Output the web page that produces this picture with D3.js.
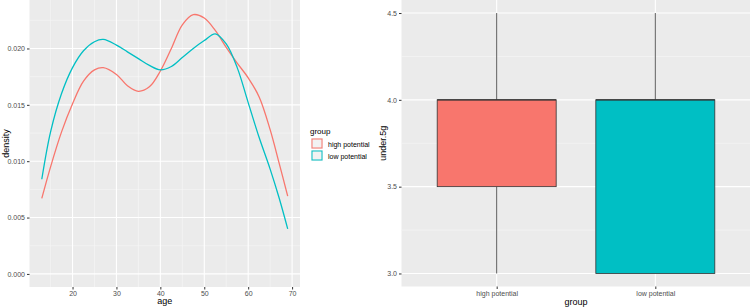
<!DOCTYPE html>
<html>
<head>
<meta charset="utf-8">
<script src="https://cdn.jsdelivr.net/npm/d3@7"></script>
<style>
  body { margin: 0; background: #fff; }
  svg { display: block; font-family: "Liberation Sans", Arial, sans-serif; }
</style>
</head>
<body>
<div id="chart"></div>
<script>
// density data
const ages = [13, 15, 17.5, 20, 22.5, 25, 27, 30, 32.5, 35, 37.5, 40, 42.5, 45, 47.5, 50, 52.5, 55, 57.5, 60, 62.5, 65, 67, 69];
const highDensity = [0.0067, 0.0095, 0.0126, 0.0151, 0.0171, 0.0181, 0.0183, 0.0177, 0.0167, 0.0162, 0.0166, 0.0180, 0.0200, 0.0221, 0.0230, 0.0227, 0.0216, 0.0201, 0.0187, 0.0174, 0.0157, 0.0128, 0.0099, 0.0069];
const lowDensity = [0.0084, 0.0126, 0.0160, 0.0183, 0.0198, 0.0206, 0.0208, 0.0203, 0.0197, 0.0191, 0.0185, 0.0181, 0.0184, 0.0192, 0.0200, 0.0207, 0.0213, 0.0204, 0.0183, 0.0152, 0.0121, 0.0093, 0.0068, 0.0040];
const ageTicks = [20, 30, 40, 50, 60, 70];
const densityTicks = [0, 0.005, 0.010, 0.015, 0.020];

// boxplot data
const groups = ["high potential", "low potential"];
const whiskerLow = [3.0, 3.0];
const q1 = [3.5, 3.0];
const medians = [4.0, 4.0];
const q3 = [4.0, 4.0];
const whiskerHigh = [4.5, 4.5];
const under5gTicks = [3.0, 3.5, 4.0, 4.5];

const colors = { "high potential": "#F8766D", "low potential": "#00BFC4" };

const width = 750, height = 307;
const svg = d3.select("#chart").append("svg").attr("width", width).attr("height", height);

const tickColor = "#4D4D4D";

// ---------- left: density ----------
const L = { left: 29.5, right: 300, top: 0, bottom: 287 };
const x = d3.scaleLinear().domain([10.2, 71.8]).range([L.left, L.right]);
const y = d3.scaleLinear().domain([-0.00116, 0.0243]).range([L.bottom, L.top]);

const gl = svg.append("g");
gl.append("rect").attr("x", L.left).attr("y", L.top)
  .attr("width", L.right - L.left).attr("height", L.bottom - L.top).attr("fill", "#EBEBEB");

// minor grid
[15, 25, 35, 45, 55, 65].forEach((v) => {
  gl.append("line").attr("x1", x(v)).attr("x2", x(v)).attr("y1", L.top).attr("y2", L.bottom)
    .attr("stroke", "#F7F7F7").attr("stroke-width", 0.6);
});
[0.0025, 0.0075, 0.0125, 0.0175, 0.0225].forEach((v) => {
  gl.append("line").attr("x1", L.left).attr("x2", L.right).attr("y1", y(v)).attr("y2", y(v))
    .attr("stroke", "#F7F7F7").attr("stroke-width", 0.6);
});
// major grid
ageTicks.forEach((v) => {
  gl.append("line").attr("x1", x(v)).attr("x2", x(v)).attr("y1", L.top).attr("y2", L.bottom)
    .attr("stroke", "#fff").attr("stroke-width", 1.1);
});
densityTicks.forEach((v) => {
  gl.append("line").attr("x1", L.left).attr("x2", L.right).attr("y1", y(v)).attr("y2", y(v))
    .attr("stroke", "#fff").attr("stroke-width", 1.1);
});

// axes
const xAxis = gl.append("g").attr("transform", `translate(0,${L.bottom})`)
  .call(d3.axisBottom(x).tickValues(ageTicks).tickSize(2.5).tickPadding(2));
const yAxis = gl.append("g").attr("transform", `translate(${L.left},0)`)
  .call(d3.axisLeft(y).tickValues(densityTicks).tickFormat(d3.format(".3f")).tickSize(2.5).tickPadding(2));
[xAxis, yAxis].forEach((a) => {
  a.select(".domain").remove();
  a.selectAll(".tick line").attr("stroke", "#333");
  a.selectAll("text").attr("fill", tickColor).style("font-size", "7px");
});

// lines
const line = d3.line().x((d) => x(d[0])).y((d) => y(d[1])).curve(d3.curveCatmullRom.alpha(0.5));
[["high potential", highDensity], ["low potential", lowDensity]].forEach(([g, vals]) => {
  gl.append("path")
    .datum(ages.map((a, i) => [a, vals[i]]))
    .attr("fill", "none")
    .attr("stroke", colors[g])
    .attr("stroke-width", 1.3)
    .attr("d", line);
});

gl.append("text").attr("x", (L.left + L.right) / 2).attr("y", 304)
  .attr("text-anchor", "middle").style("font-size", "9px").text("age");
gl.append("text").attr("transform", `translate(9,${(L.top + L.bottom) / 2}) rotate(-90)`)
  .attr("text-anchor", "middle").style("font-size", "9px").text("density");

// legend
const lg = svg.append("g").attr("transform", "translate(310,0)");
lg.append("text").attr("x", 0).attr("y", 134).style("font-size", "8px").text("group");
groups.forEach((g, i) => {
  const ky = 138 + i * 12;
  lg.append("rect").attr("x", 1).attr("y", ky).attr("width", 12).attr("height", 11)
    .attr("fill", "#F2F2F2");
  lg.append("rect").attr("x", 2).attr("y", ky + 1).attr("width", 10).attr("height", 9)
    .attr("fill", "none").attr("stroke", colors[g]).attr("stroke-width", 1);
  lg.append("text").attr("x", 18).attr("y", ky + 8.5).style("font-size", "7px").text(g);
});

// ---------- right: boxplot ----------
const R = { left: 401.5, right: 750.5, top: 0, bottom: 286.5 };
// ggplot discrete expansion 0.6 on each side
const xc = d3.scaleLinear().domain([0.4, 2.6]).range([R.left, R.right]);
const yb = d3.scaleLinear().domain([2.925, 4.575]).range([R.bottom, R.top]);

const gr = svg.append("g");
gr.append("rect").attr("x", R.left).attr("y", R.top)
  .attr("width", R.right - R.left).attr("height", R.bottom - R.top).attr("fill", "#EBEBEB");
[3.25, 3.75, 4.25].forEach((v) => {
  gr.append("line").attr("x1", R.left).attr("x2", R.right).attr("y1", yb(v)).attr("y2", yb(v))
    .attr("stroke", "#F7F7F7").attr("stroke-width", 0.6);
});
under5gTicks.forEach((v) => {
  gr.append("line").attr("x1", R.left).attr("x2", R.right).attr("y1", yb(v)).attr("y2", yb(v))
    .attr("stroke", "#fff").attr("stroke-width", 1.1);
});
groups.forEach((g, i) => {
  gr.append("line").attr("x1", xc(i + 1)).attr("x2", xc(i + 1)).attr("y1", R.top).attr("y2", R.bottom)
    .attr("stroke", "#fff").attr("stroke-width", 1.1);
});

const xbAxis = gr.append("g").attr("transform", `translate(0,${R.bottom})`)
  .call(d3.axisBottom(xc).tickValues([1, 2]).tickFormat((d) => groups[d - 1]).tickSize(2.5).tickPadding(2));
const ybAxis = gr.append("g").attr("transform", `translate(${R.left},0)`)
  .call(d3.axisLeft(yb).tickValues(under5gTicks).tickFormat(d3.format(".1f")).tickSize(2.5).tickPadding(2));
[xbAxis, ybAxis].forEach((a) => {
  a.select(".domain").remove();
  a.selectAll(".tick line").attr("stroke", "#333");
  a.selectAll("text").attr("fill", tickColor).style("font-size", "7px");
});

groups.forEach((g, i) => {
  const cx = xc(i + 1);
  const half = xc(i + 1 + 0.375) - cx;
  // whiskers
  gr.append("line").attr("x1", cx).attr("x2", cx).attr("y1", yb(q3[i])).attr("y2", yb(whiskerHigh[i]))
    .attr("stroke", "#333").attr("stroke-width", 0.8);
  gr.append("line").attr("x1", cx).attr("x2", cx).attr("y1", yb(q1[i])).attr("y2", yb(whiskerLow[i]))
    .attr("stroke", "#333").attr("stroke-width", 0.8);
  // box
  gr.append("rect").attr("x", cx - half).attr("y", yb(q3[i]))
    .attr("width", half * 2).attr("height", yb(q1[i]) - yb(q3[i]))
    .attr("fill", colors[g]).attr("stroke", "#333").attr("stroke-width", 0.8);
  // median
  gr.append("line").attr("x1", cx - half).attr("x2", cx + half).attr("y1", yb(medians[i])).attr("y2", yb(medians[i]))
    .attr("stroke", "#333").attr("stroke-width", 1.3);
});

gr.append("text").attr("x", (R.left + R.right) / 2).attr("y", 305)
  .attr("text-anchor", "middle").style("font-size", "9px").text("group");
gr.append("text").attr("transform", `translate(386,${(R.top + R.bottom) / 2}) rotate(-90)`)
  .attr("text-anchor", "middle").style("font-size", "9px").text("under.5g");
</script>
</body>
</html>
